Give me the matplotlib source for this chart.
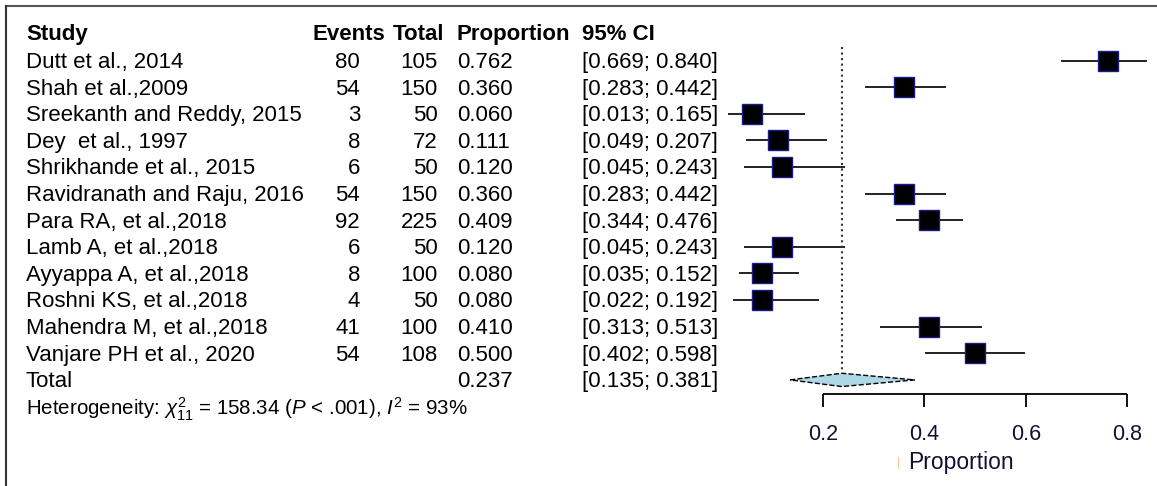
import matplotlib
matplotlib.use("Agg")
import matplotlib.pyplot as plt
from matplotlib.patches import Polygon

plt.rcParams['font.family'] = ['Liberation Sans', 'DejaVu Sans']
plt.rcParams['mathtext.fontset'] = 'custom'
plt.rcParams['mathtext.rm'] = 'Liberation Sans'
plt.rcParams['mathtext.it'] = 'Liberation Sans:italic'

studies = ['Dutt et al., 2014', 'Shah et al.,2009', 'Sreekanth and Reddy, 2015',
           'Dey  et al., 1997', 'Shrikhande et al., 2015', 'Ravidranath and Raju, 2016',
           'Para RA, et al.,2018', 'Lamb A, et al.,2018', 'Ayyappa A, et al.,2018',
           'Roshni KS, et al.,2018', 'Mahendra M, et al.,2018', 'Vanjare PH et al., 2020']
events = [80, 54, 3, 8, 6, 54, 92, 6, 8, 4, 41, 54]
totals = [105, 150, 50, 72, 50, 150, 225, 50, 100, 50, 100, 108]
prop = [0.762, 0.360, 0.060, 0.111, 0.120, 0.360, 0.409, 0.120, 0.080, 0.080, 0.410, 0.500]
ci_lo = [0.669, 0.283, 0.013, 0.049, 0.045, 0.283, 0.344, 0.045, 0.035, 0.022, 0.313, 0.402]
ci_hi = [0.840, 0.442, 0.165, 0.207, 0.243, 0.442, 0.476, 0.243, 0.152, 0.192, 0.513, 0.598]
pooled = 0.237
pooled_lo = 0.135
pooled_hi = 0.381
xticks = [0.2, 0.4, 0.6, 0.8]

W, H = 1157, 486
fig = plt.figure(figsize=(W / 100, H / 100), dpi=100)
ax = fig.add_axes([0, 0, 1, 1])
ax.axis('off')

# pixel layout: x=0 at 721.6px, 507px per unit; row 0 at 60.7px, 26.6px per row
x0, xs = 721.6, 507.0
y0, ys = 60.7, 26.6
ax.set_xlim(-x0 / xs, (W - x0) / xs)
ax.set_ylim((H - y0) / ys, -y0 / ys)

def fx(px):
    return px / W

def fy(py):
    return 1 - py / H

fs = 16
dy = 1.8  # text sits a little lower than the marks
# frame (top and left)
fig.add_artist(plt.Line2D([fx(6), 1], [fy(6), fy(6)], color='#555555', lw=1.5))
fig.add_artist(plt.Line2D([fx(6), fx(6)], [fy(6), 0], color='#333333', lw=1.5))

# header
hy = fy(33 + dy)
fig.text(fx(26), hy, 'Study', fontsize=fs, fontweight='bold', va='center')
fig.text(fx(313), hy, 'Events', fontsize=fs, fontweight='bold', va='center')
fig.text(fx(393), hy, 'Total', fontsize=fs, fontweight='bold', va='center')
fig.text(fx(457), hy, 'Proportion', fontsize=fs, fontweight='bold', va='center')
fig.text(fx(582), hy, '95% CI', fontsize=fs, fontweight='bold', va='center')

rows = list(range(len(studies)))
for i in rows:
    yy = fy(y0 + ys * i + dy)
    fig.text(fx(26), yy, studies[i], fontsize=fs, va='center')
    fig.text(fx(360), yy, str(events[i]), fontsize=fs, va='center', ha='right')
    fig.text(fx(438), yy, str(totals[i]), fontsize=fs, va='center', ha='right')
    fig.text(fx(457), yy, '%.3f' % prop[i], fontsize=fs, va='center')
    fig.text(fx(582), yy, '[%.3f; %.3f]' % (ci_lo[i], ci_hi[i]), fontsize=fs, va='center')

# CI lines and squares
ax.hlines(rows, ci_lo, ci_hi, color='#111111', lw=1.3)
ax.plot(prop, rows, 's', color='black', mec='#1a1a90', mew=1.0, ms=14.5)

# pooled row
tr = len(studies)
ty = fy(y0 + ys * tr + dy)
fig.text(fx(26), ty, 'Total', fontsize=fs, va='center')
fig.text(fx(457), ty, '%.3f' % pooled, fontsize=fs, va='center')
fig.text(fx(582), ty, '[%.3f; %.3f]' % (pooled_lo, pooled_hi), fontsize=fs, va='center')
dh = 0.25
ax.add_patch(Polygon([(pooled_lo, tr), (pooled, tr - dh), (pooled_hi, tr), (pooled, tr + dh)],
                     closed=True, facecolor='#add8e6', edgecolor='black', lw=1.0, ls='--'))
ax.vlines(pooled, -0.52, tr - 0.3, color='#333333', lw=1.5, ls=':')

fig.text(fx(26), fy(409),
         r'Heterogeneity: $\chi^2_{11}$ = 158.34 ($P$ < .001), $I^2$ = 93%',
         fontsize=14.8, va='center')

# x axis
ay = tr + 0.53
ax.hlines(ay, xticks[0], xticks[-1], color='black', lw=1.3)
ax.vlines(xticks, ay, ay + 0.5, color='black', lw=1.3)
for t in xticks:
    ax.text(t, 14.05, '%.1f' % t, fontsize=15.5, ha='center', va='center', color='#111133')
ax.text((961 - x0) / xs, (462 - y0) / ys, 'Proportion', fontsize=16.5, ha='center', va='center',
        color='#111133')
ax.text((898 - x0) / xs, (463 - y0) / ys, '|', fontsize=9, ha='center', va='center',
        color='#f0c080')

fig.savefig('out.png', dpi=100)
